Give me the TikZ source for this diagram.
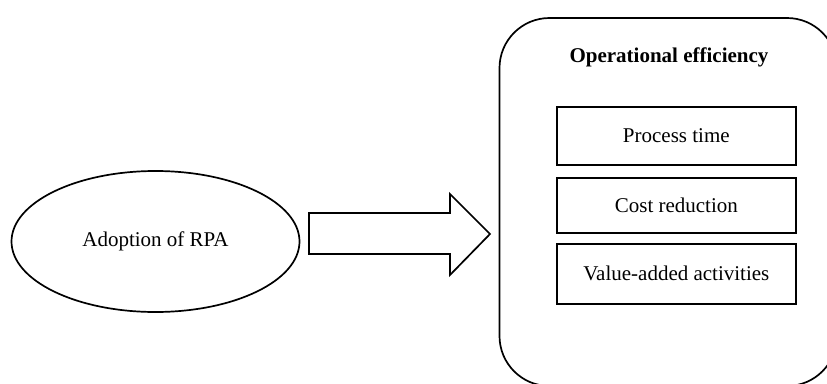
\documentclass[tikz,border=0pt]{standalone}
\usepackage{fontspec}
\setmainfont{Liberation Serif}
\usetikzlibrary{shapes.geometric}
\begin{document}
\begin{tikzpicture}[x=1pt,y=-1pt,
  outline/.style={draw=black,line width=1.7pt},
  label/.style={font=\fontsize{21}{25}\selectfont},
  factor/.style={outline,label,minimum width=239pt,anchor=north west,inner sep=0pt}]
\useasboundingbox (0,0) rectangle (827,383);
\begin{scope}
\clip (0,0) rectangle (827,383);
% outer container for the outcome construct
\draw[outline,rounded corners=50pt] (499.5,18) rectangle (837,386);
\end{scope}
% predictor
\node[outline,label,ellipse,minimum width=288pt,minimum height=141pt] (rpa) at (155.5,241.5) {Adoption of RPA};
% block arrow
\draw[outline,line join=miter] (309,213) coordinate (arrowbase) -- (450,213) -- (450,194) -- (490,234) coordinate (arrowtip) -- (450,275) -- (450,254) -- (309,254) -- cycle;
% construct title and its dimensions
\node[font=\fontsize{21}{25}\selectfont\bfseries] (title) at (669,57) {Operational efficiency};
\node[factor,minimum height=58pt] (pt) at (556,106) {Process time};
\node[factor,minimum height=55pt] (cr) at (556,177) {Cost reduction};
\node[factor,minimum height=60pt] (va) at (556,243) {Value-added activities};
\end{tikzpicture}
\end{document}
